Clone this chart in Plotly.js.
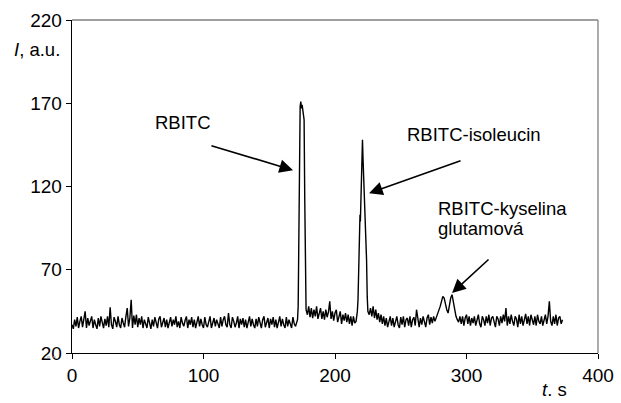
<!DOCTYPE html>
<html>
<head>
<meta charset="utf-8">
<script src="https://cdn.plot.ly/plotly-3.0.1.min.js"></script>
<style>html,body{margin:0;padding:0;background:#fff;}#chart{width:621px;height:403px;}</style>
</head>
<body>
<div id="chart"></div>
<script>
// ---- data ----
// noise segment A: 1 s sampling, t = 0..171
const segA_t0 = 0;
const segA_I = [
 37,34.5,40,36,41.5,35,39,42,35.5,40,
 45,35,41,36.5,39,42,35,40,37,34.5,
 41,36,42,38,35,40.5,36.5,42,35.5,47.5,
 37,34.5,41.5,39,35.5,42,37,35,41,38,
 35.5,42,47,36,41,52,35,42.5,37,43,
 35.5,41,37,42,35,40,36.5,35,41.5,37.5,
 34.5,40,36,41.5,37,35,40.5,42,35.5,38,
 41,35.5,40,35,38.5,41.5,36,40,37,42,
 35.5,39,35,41.5,38,36,39.5,42,35,40,
 37,41.5,35.5,40,35,38,42,36,40.5,37,
 35,41.5,37,35.5,40,42,35,38.5,41,36,
 40,37.5,35,41.5,36,40,42,37,35.5,44,
 37,35,41.5,39,35.5,38,42,35,40.5,37,
 41,35.5,40,35,38,42,36,40.5,37,35,
 40.5,36,41.5,37,35,40,42,35.5,38,41,
 35,40.5,37,41.5,35.5,40,35,38,42,36,
 40.5,37,35,41.5,36,40,38,35,41.5,37.5,
 36,40
];
// peak 1 (RBITC)
const peak1_t = [171.5,172,172.5,173,173.5,174,174.5,175,175.5,176,176.5,177,177.5,178];
const peak1_I = [40,48,105,158,168,171,167,169,166,165,160,112,62,46];
// noise segment B: t = 179..216
const segB_t0 = 179;
const segB_I = [
 43,48,41.5,47,41,46,42,48,40.5,45,
 47,40.5,45,40,46,41.5,44.5,51,40.5,45,
 39.5,44,46,38.5,43,45,37.5,43,39.5,44,
 38.5,43,37.5,42,36.5,42,38,39
];
// peak 2 (RBITC-isoleucin)
const peak2_t = [216.5,217,217.5,218,218.5,219,219.3,219.6,220,220.5,220.9,221.3,221.7,222.2,222.6,223,223.3,223.6,224,224.5,225];
const peak2_I = [42,45,52,74,95,103,99,112,128,140,148,137,128,122,110,101,104,96,76,54,45];
// noise segment C (incl. glutamic acid peak): t = 226..373
const segC_t0 = 226;
const segC_I = [
 43,47,42,48,41,46,40,44,38.5,43,
 37.5,42,36.5,41,35.5,40,42,36.5,41,35.5,
 40,42,37,35,41.5,37,42,35.5,40,41,
 36.5,42,35.5,40,41.5,36.5,46,40,35.5,41,
 37,42,38,35.5,41,43,37,41.5,38,42,
 39,41,43,45,48,51,54,53,49,46,
 44,49,53,55,50,45,42,40,38.5,42,
 37.5,42,36.5,41,43,37.5,42,36.5,41,38,
 42,36.5,41,43,37.5,35.5,42,40,36.5,42,
 38,43,36.5,41,42,37.5,35.5,42,40.5,36.5,
 42,38,43,39,47,36.5,42,37.5,43,39,
 36.5,42,40.5,35.5,43,37.5,42,36.5,41,43.5,
 37.5,42,36.5,43,40,37,42,36.5,43,39,
 37.5,42,36.5,41,43,37.5,42,51,39,36.5,
 42,37.5,43,36.5,41,42,37.5,40
];
const xTicks = [0,100,200,300,400];
const yTicks = [20,70,120,170,220];
const labels = {
  p1: "RBITC",
  p2: "RBITC-isoleucin",
  p3a: "RBITC-kyselina",
  p3b: "glutamová",
  yTitle: "<i>I</i>, a.u.",
  xTitle: "<i>t</i>. s"
};

// ---- build trace table ----
const grid = (t0, arr) => arr.map((_, i) => t0 + i);
const X = [].concat(grid(segA_t0, segA_I), peak1_t, grid(segB_t0, segB_I), peak2_t, grid(segC_t0, segC_I));
const Y = [].concat(segA_I, peak1_I, segB_I, peak2_I, segC_I);

const FONT = "Liberation Sans, Arial, sans-serif";
const FS = 19;

const trace = {
  x: X, y: Y, type: 'scatter', mode: 'lines',
  line: {color: '#000', width: 1.4},
  hoverinfo: 'skip'
};

function arrow(tx, ty, axx, ayy) {
  return {x: tx, y: ty, xref: 'x', yref: 'y', ax: axx, ay: ayy, axref: 'x', ayref: 'y',
    text: '', showarrow: true, arrowhead: 2, arrowsize: 1.7, arrowwidth: 1.6, arrowcolor: '#000', standoff: 0};
}
function label(x, y, txt, xanchor) {
  return {x: x, y: y, xref: 'x', yref: 'y', text: txt, showarrow: false,
    xanchor: xanchor || 'center', yanchor: 'middle', font: {family: FONT, size: 18.5, color: '#000'}};
}

const layout = {
  width: 621, height: 403,
  margin: {l: 72, r: 23, t: 20, b: 50, pad: 0},
  paper_bgcolor: '#fff', plot_bgcolor: '#fff',
  showlegend: false,
  font: {family: FONT, size: FS, color: '#000'},
  xaxis: {
    range: [0, 400], tickvals: xTicks, ticktext: xTicks.map(String),
    ticks: 'outside', ticklen: 5, tickwidth: 1, tickcolor: '#000',
    showline: true, linecolor: '#000', linewidth: 1.3,
    showgrid: false, zeroline: false, fixedrange: true
  },
  yaxis: {
    range: [20, 220], tickvals: yTicks, ticktext: yTicks.map(String),
    ticks: 'outside', ticklen: 5, tickwidth: 1, tickcolor: '#000',
    showline: true, linecolor: '#000', linewidth: 1.3,
    showgrid: false, zeroline: false, fixedrange: true
  },
  shapes: [
    {type: 'line', xref: 'paper', yref: 'paper', x0: 0, x1: 1, y0: 1, y1: 1, line: {color: '#808080', width: 1.3}},
    {type: 'line', xref: 'paper', yref: 'paper', x0: 1, x1: 1, y0: 0, y1: 1, line: {color: '#808080', width: 1.3}},
    {type: 'line', xref: 'paper', yref: 'paper', x0: -0.0475, x1: -0.0247, y0: -0.012, y1: -0.012, line: {color: '#aaaaaa', width: 1, dash: 'dot'}}
  ],
  annotations: [
    label(84.4, 158.6, labels.p1),
    arrow(168.1, 129.8, 104.9, 144.8),
    label(253, 151, labels.p2, 'left'),
    arrow(225.9, 116, 296.6, 135.8),
    label(277, 106.6, labels.p3a, 'left'),
    label(277, 94.6, labels.p3b, 'left'),
    arrow(289, 56, 317.9, 77),
    {x: -0.019, y: 0.91, xref: 'paper', yref: 'paper', text: labels.yTitle, showarrow: false,
     xanchor: 'right', yanchor: 'middle', font: {family: FONT, size: 18.5, color: '#000'}},
    {x: 0.918, y: -0.111, xref: 'paper', yref: 'paper', text: labels.xTitle, showarrow: false,
     xanchor: 'center', yanchor: 'middle', font: {family: FONT, size: 18.5, color: '#000'}}
  ]
};

Plotly.newPlot('chart', [trace], layout, {staticPlot: true, displayModeBar: false});
</script>
</body>
</html>
